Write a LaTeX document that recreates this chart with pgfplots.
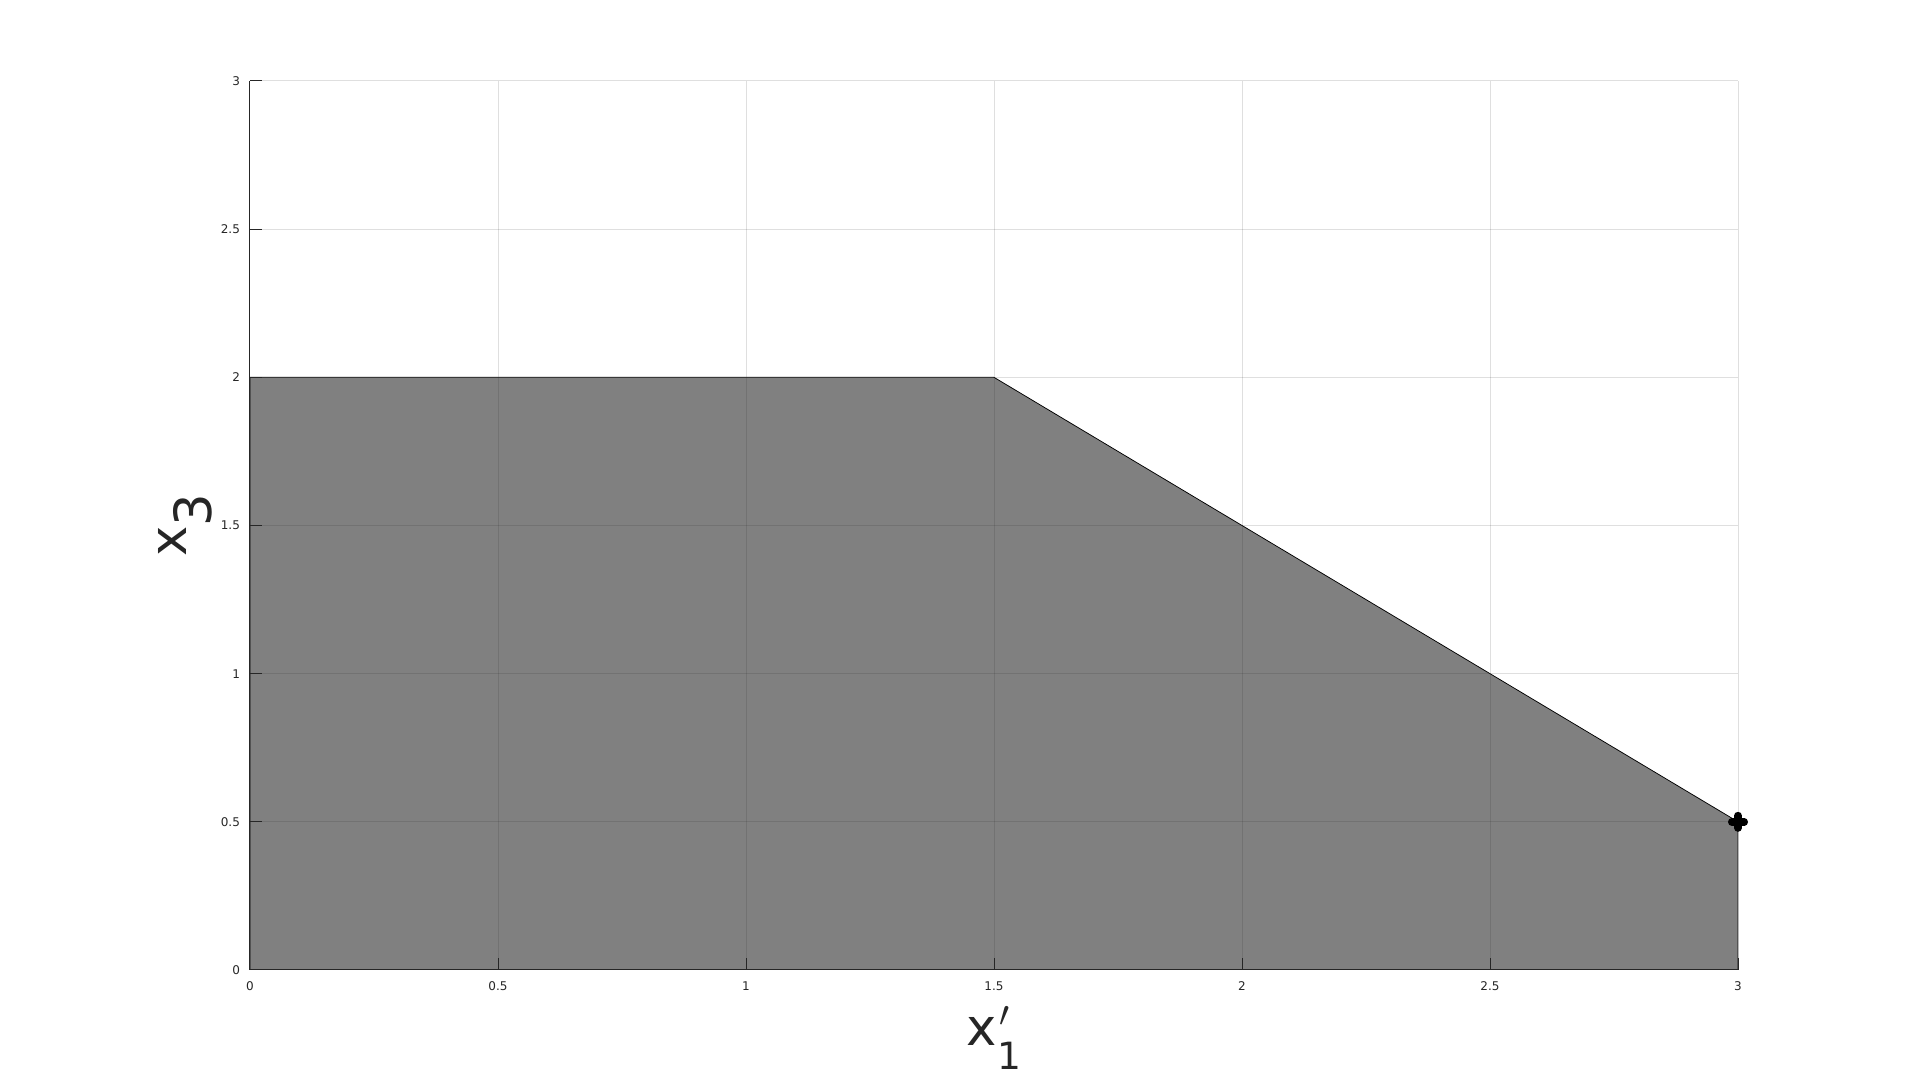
\documentclass[border=0pt]{standalone}
\usepackage{amsmath}
\usepackage{fontspec}
\setmainfont{DejaVu Sans}
\usepackage{pgfplots}
\pgfplotsset{compat=1.18}
\definecolor{axgray}{rgb}{0.15,0.15,0.15}
\begin{document}
\begin{tikzpicture}
\path (-100pt,-48pt) rectangle (668pt,388pt);
\begin{axis}[
  at={(0pt,0pt)}, anchor=south west,
  scale only axis, width=595.2pt, height=355.6pt,
  xmin=0, xmax=3, ymin=0, ymax=3,
  xtick={0,0.5,...,3}, ytick={0,0.5,...,3},
  axis lines*=left,
  axis line style={axgray, line width=0.4pt},
  tick align=inside,
  major tick length=4.8pt,
  tick style={axgray, line width=0.4pt},
  grid=major,
  major grid style={black!85, opacity=0.15, line width=0.4pt},
  axis on top,
  /pgf/number format/assume math mode=true,
  ticklabel style={font=\fontsize{4.8}{6}\selectfont, text=axgray},
  xticklabels={0,0.5,1,1.5,2,2.5,3},
  yticklabels={0,0.5,1,1.5,2,2.5,3},
  xticklabel style={yshift=-1pt},
  yticklabel style={xshift=-0.5pt},
  xlabel={x\rlap{\kern1pt$^{\prime}$}\raisebox{-9.6pt}{\fontsize{15}{18}\selectfont 1}},
  ylabel={x\raisebox{-10pt}{3}},
  label style={font=\fontsize{20.5}{24}\selectfont, text=axgray, inner sep=0pt},
  xlabel style={at={(axis description cs:0.5,0)}, anchor=base, yshift=-30pt},
  ylabel style={at={(axis description cs:-0.04234,0.5)}, anchor=base},
]
\addplot[fill=gray, draw=black, line width=0.3pt] coordinates {(0,0) (0,2) (1.5,2) (3,0.5) (3,0)} -- cycle;
\addplot[only marks, mark=+, mark size=2.5pt, line width=3pt, line cap=round, black] coordinates {(3,0.5)};
\end{axis}
\end{tikzpicture}
\end{document}
